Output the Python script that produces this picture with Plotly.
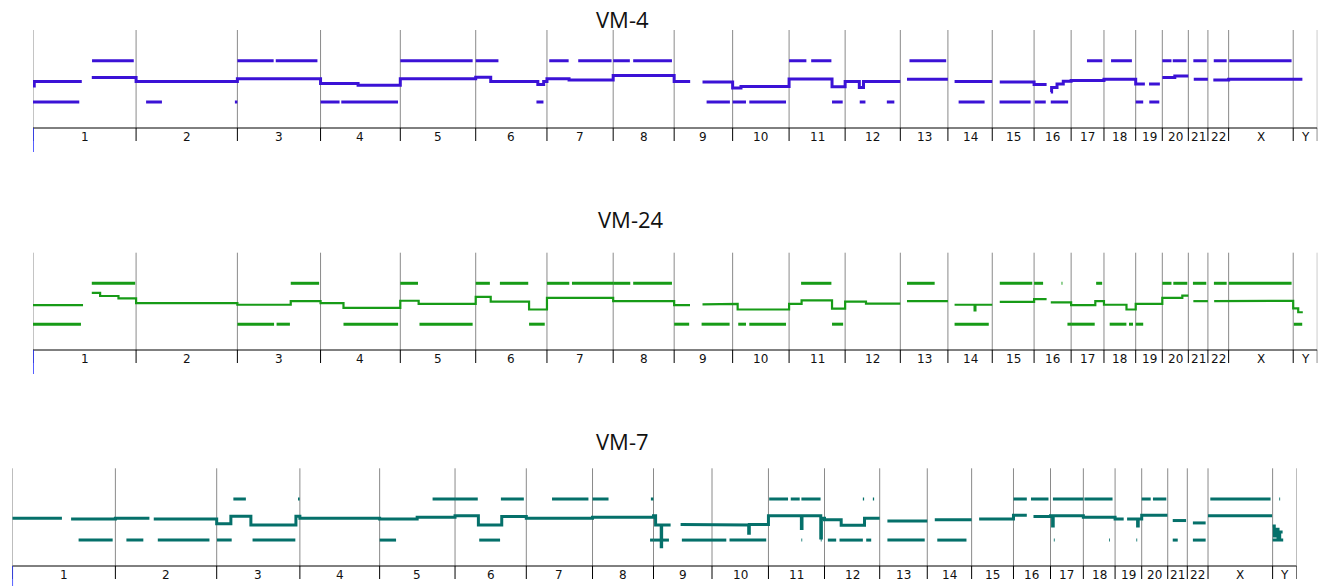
import plotly.graph_objects as go

# ---------------- data ----------------
CHROMS = ["1", "2", "3", "4", "5", "6", "7", "8", "9", "10", "11", "12",
          "13", "14", "15", "16", "17", "18", "19", "20", "21", "22", "X", "Y"]
CHROM_LEN_MB = [247.25, 242.95, 199.50, 191.27, 180.86, 170.90, 158.82, 146.27,
                140.27, 135.37, 134.45, 132.35, 114.14, 106.37, 100.34, 88.83,
                78.77, 76.12, 63.81, 62.44, 46.94, 49.69, 154.91, 57.77]

# log2-ratio profile segments: (chromosome, start Mb, end Mb, level)
VM4_PROFILE = [
    ("1", 0, 3, -0.15), ("1", 3, 117, -0.04), ("1", 141, 247.25, 0.06),
    ("2", 0, 242.95, -0.04), ("3", 0, 199.5, 0.03),
    ("4", 0, 90, -0.09), ("4", 90, 191.27, -0.13), ("5", 0, 180.86, 0.03),
    ("6", 0, 36, 0.07), ("6", 36, 149, -0.04), ("6", 149, 163, -0.11), ("6", 163, 170.9, -0.04),
    ("7", 0, 53, 0.03), ("7", 53, 158.82, 0.0), ("8", 0, 146.27, 0.11),
    ("9", 0, 38.4, -0.04), ("9", 68, 140.27, -0.05),
    ("10", 0, 20, -0.2), ("10", 20, 135.37, -0.16),
    ("11", 0, 103, 0.025), ("11", 103, 134.45, -0.17),
    ("12", 0, 34, -0.04), ("12", 34, 44, -0.19), ("12", 44, 132.35, -0.04),
    ("13", 16, 114.14, 0.02), ("14", 16, 106.37, -0.04), ("15", 18, 100.34, -0.05),
    ("16", 0, 30, -0.11), ("16", 40, 42, -0.3), ("16", 42, 55, -0.19), ("16", 55, 70, -0.1),
    ("16", 70, 88.83, -0.03),
    ("17", 0, 78.77, -0.01), ("18", 0, 76.12, 0.02),
    ("19", 0, 22, -0.1), ("19", 32, 58, -0.1),
    ("20", 0, 30, 0.06), ("20", 30, 62.44, 0.1),
    ("21", 13, 46.94, 0.02), ("22", 13, 49.69, 0.0), ("X", 0, 154.91, 0.02), ("Y", 0, 22, 0.02),
]
VM4_GAINS = [
    ("1", 141.6, 241.7), ("3", 0, 87), ("3", 92, 192), ("5", 0, 173.5), ("6", 0, 54.5),
    ("7", 5.5, 52), ("7", 75, 155), ("8", 0, 40), ("8", 48, 141), ("11", 0, 41.5),
    ("11", 53, 101.5), ("13", 22, 110), ("17", 38, 75), ("18", 17, 67), ("20", 0, 22),
    ("20", 25, 58), ("21", 12, 44), ("22", 14, 45), ("X", 1.5, 151),
]
VM4_LOSSES = [
    ("1", 0, 111), ("2", 24, 62), ("2", 237, 242.95), ("4", 0, 45.6), ("4", 49.7, 185.8),
    ("6", 145.7, 162.5), ("9", 77.8, 133.7), ("10", 0, 32), ("10", 40, 128),
    ("11", 103, 128.6), ("12", 35, 48.7), ("12", 100, 118), ("14", 25.7, 88),
    ("15", 17.5, 92), ("16", 1.7, 28), ("16", 40, 81.6), ("19", 0, 18), ("19", 32.6, 56.6),
]

VM24_PROFILE = [
    ("1", 0, 120, -0.07), ("1", 141, 161, 0.24), ("1", 161, 205, 0.16), ("1", 205, 247.25, 0.1),
    ("2", 0, 242.95, -0.02), ("3", 0, 128, -0.06), ("3", 128, 199.5, 0.03),
    ("4", 0, 55, -0.02), ("4", 55, 191.27, -0.14), ("5", 0, 44, 0.04), ("5", 44, 180.86, -0.04),
    ("6", 0, 36, 0.14), ("6", 36, 128, 0.02), ("6", 128, 170.9, -0.18),
    ("7", 0, 158.82, 0.11), ("8", 0, 146.27, 0.03),
    ("9", 0, 38, -0.07), ("9", 68, 140.27, -0.05),
    ("10", 0, 12, -0.04), ("10", 12, 135.37, -0.18),
    ("11", 0, 30, -0.04), ("11", 30, 103, 0.05), ("11", 103, 134.45, -0.16),
    ("12", 0, 50, 0.02), ("12", 50, 132.35, -0.03), ("13", 16, 114.14, 0.03),
    ("14", 16, 64, -0.06), ("14", 64, 66, -0.2), ("14", 66, 106.37, -0.06),
    ("15", 18, 100.34, 0.01), ("16", 0, 30, 0.08), ("16", 40, 88.83, 0.0),
    ("17", 0, 58, -0.07), ("17", 58, 78.77, 0.03), ("18", 0, 54, -0.06), ("18", 54, 76.12, -0.18),
    ("19", 0, 63.81, -0.04), ("20", 0, 48, 0.11), ("20", 48, 62.44, 0.17),
    ("21", 12, 46.94, 0.03), ("22", 15, 49.69, 0.03), ("X", 0, 154.91, 0.04),
    ("Y", 0, 12, -0.15), ("Y", 12, 23, -0.25),
]
VM24_GAINS = [
    ("1", 141, 245), ("3", 128, 196), ("5", 0, 42.5), ("6", 0, 34), ("6", 58, 126),
    ("7", 0, 53.6), ("7", 60, 158.8), ("8", 0, 41), ("8", 48, 141), ("11", 28.8, 101.5),
    ("13", 16, 82.4), ("15", 18, 96), ("16", 0, 21.6), ("16", 65.8, 68), ("17", 60, 74.4),
    ("20", 0, 22), ("20", 26.4, 60), ("21", 11, 43), ("22", 14.4, 45), ("X", 0.7, 151),
]
VM24_LOSSES = [
    ("1", 0, 115), ("3", 0, 88), ("3", 94, 126), ("4", 55, 186), ("5", 46, 173.5),
    ("6", 128, 165.6), ("9", 0, 36), ("9", 65.8, 133), ("10", 13.4, 32), ("10", 40, 128),
    ("11", 103, 129.6), ("14", 16, 98), ("16", 80, 88.83), ("17", 0, 56.6),
    ("18", 13.7, 53.8), ("18", 60, 69.6), ("19", 0, 18), ("Y", 1.4, 21.6),
]

VM7_PROFILE = [
    ("1", 0, 119, 0.0), ("1", 141, 247.25, -0.02), ("2", 0, 81.6, 0.0), ("2", 92, 242.95, -0.02),
    ("3", 0, 34, -0.14), ("3", 34, 82, 0.05), ("3", 82, 190, -0.17), ("3", 190, 199.5, 0.05),
    ("4", 0, 191.27, 0.0), ("5", 0, 90, -0.02), ("5", 90, 180.86, 0.02),
    ("6", 0, 56, 0.06), ("6", 56, 112, -0.17), ("6", 112, 170.9, 0.04),
    ("7", 0, 158.82, 0.0), ("8", 0, 146.27, 0.02),
    ("9", 0, 5, 0.06), ("9", 5, 18.5, -0.17), ("9", 18.5, 19.5, -0.72), ("9", 19.5, 41, -0.17),
    ("9", 65, 140.27, -0.16),
    ("10", 0, 88, -0.17), ("10", 88, 89.5, -0.38), ("10", 89.5, 135.37, -0.16),
    ("11", 0, 79, 0.06), ("11", 79, 80.5, -0.26), ("11", 80.5, 125.5, 0.06),
    ("11", 125.5, 127, -0.5), ("11", 127, 134.45, 0.0),
    ("12", 0, 40, -0.04), ("12", 40, 96, -0.18), ("12", 96, 132.35, 0.0),
    ("13", 18.5, 114.14, -0.07), ("14", 18, 106.37, -0.04), ("15", 18, 100.34, -0.02),
    ("16", 0, 32, 0.07), ("16", 48, 88.83, 0.04),
    ("17", 0, 5, 0.06), ("17", 5, 6.5, -0.2), ("17", 6.5, 78.77, 0.06),
    ("18", 0, 76.12, 0.02),
    ("19", 0, 20.6, -0.02), ("19", 28.8, 54, -0.02), ("19", 54, 55.5, -0.2), ("19", 55.5, 63.81, -0.02),
    ("20", 0, 61.7, 0.07), ("21", 12, 44, -0.06), ("22", 13.4, 44, -0.12),
    ("X", 0, 153.6, 0.06),
    ("Y", 0, 4, -0.2), ("Y", 4, 8, -0.45), ("Y", 8, 13, -0.28), ("Y", 13, 17, -0.5), ("Y", 17, 24, -0.35),
]
VM7_GAINS = [
    ("3", 40, 70), ("3", 195, 199), ("5", 127, 180.86), ("6", 0, 54.5), ("6", 110, 165),
    ("7", 61.7, 149), ("8", 0, 38.4), ("8", 140, 146), ("11", 1.7, 47), ("11", 53.5, 75),
    ("11", 79, 125), ("12", 92, 95), ("12", 116, 119), ("16", 0, 32), ("16", 42, 84),
    ("17", 5.8, 78.77), ("18", 2.4, 70), ("20", 0, 21.6), ("20", 27, 59), ("X", 5.5, 150),
    ("Y", 16, 18),
]
VM7_LOSSES = [
    ("1", 159, 240.7), ("2", 26.4, 67), ("2", 101.7, 225.6), ("3", 0.7, 36), ("3", 86, 188.6),
    ("5", 0, 39.4), ("6", 58, 108), ("8", 138, 146.27), ("9", 0, 37), ("9", 68, 140.27),
    ("10", 0, 34.3), ("10", 42, 130), ("11", 79, 81), ("11", 125.5, 127.5), ("12", 8, 28),
    ("12", 36, 92), ("12", 100, 112), ("13", 18.5, 108), ("14", 24, 94), ("17", 8, 10),
    ("18", 61.7, 63.7), ("19", 51, 53), ("21", 12, 24), ("22", 13.4, 44), ("Y", 0, 25.4),
]

# ---------------- geometry / style ----------------
W, H = 1323, 586
GAIN_Y, LOSS_Y = 0.48, -0.55
Y_RANGE = [-1.2, 1.25]

OFF = {}
acc = 0.0
for c, L in zip(CHROMS, CHROM_LEN_MB):
    OFF[c] = acc
    acc += L
TOTAL = acc
BOUNDS = [OFF[c] for c in CHROMS] + [TOTAL]

PANELS = [
    dict(name="VM-4", color="#3b12d6", prof=VM4_PROFILE, gains=VM4_GAINS, losses=VM4_LOSSES,
         x0=33, x1=1317.3, top=30, bot=128, tx=622, ty=19, blue=24, lw=3),
    dict(name="VM-24", color="#179b17", prof=VM24_PROFILE, gains=VM24_GAINS, losses=VM24_LOSSES,
         x0=33, x1=1317.3, top=252.7, bot=350, tx=631, ty=219, blue=24, lw=2.2),
    dict(name="VM-7", color="#05706a", prof=VM7_PROFILE, gains=VM7_GAINS, losses=VM7_LOSSES,
         x0=12.3, x1=1296.7, top=468.3, bot=566, tx=622, ty=441, blue=20, lw=3),
]


def gx(ch, pos):
    return OFF[ch] + pos


def profile_xy(segs):
    xs, ys, prev = [], [], None
    for ch, s, e, v in segs:
        a, b = gx(ch, s), gx(ch, e)
        if prev is not None and abs(a - prev) > 1e-6:
            xs.append(None); ys.append(None)
        xs += [a, b]; ys += [v, v]
        prev = b
    return xs, ys


def bars_xy(segs, y):
    xs, ys = [], []
    for ch, s, e in segs:
        xs += [gx(ch, s), gx(ch, e), None]
        ys += [y, y, None]
    return xs, ys


fig = go.Figure()
shapes, annos = [], []
layout = {}

for i, p in enumerate(PANELS, start=1):
    sx = "" if i == 1 else str(i)
    xa, ya = "x" + sx, "y" + sx
    ph = p["bot"] - p["top"]
    layout["xaxis" + sx] = dict(domain=[p["x0"] / W, p["x1"] / W], range=[0, TOTAL],
                                visible=False, anchor=ya, fixedrange=True)
    layout["yaxis" + sx] = dict(domain=[1 - p["bot"] / H, 1 - p["top"] / H], range=Y_RANGE,
                                visible=False, anchor=xa, fixedrange=True)

    # chromosome boundaries and ticks
    for b in BOUNDS:
        shapes.append(dict(type="line", xref=xa, yref=ya + " domain", x0=b, x1=b, y0=0, y1=1,
                           line=dict(color="#8a8a8a", width=1), layer="below"))
        shapes.append(dict(type="line", xref=xa, yref=ya + " domain", x0=b, x1=b, y0=-13 / ph, y1=0,
                           line=dict(color="#000000", width=1)))
    shapes.append(dict(type="line", xref=xa, yref=ya + " domain", x0=0, x1=TOTAL, y0=0, y1=0,
                       line=dict(color="#000000", width=1)))
    shapes.append(dict(type="line", xref=xa, yref=ya + " domain", x0=0, x1=0, y0=-p["blue"] / ph, y1=0,
                       line=dict(color="#1f2dff", width=1.5)))

    for c, L in zip(CHROMS, CHROM_LEN_MB):
        annos.append(dict(x=OFF[c] + L / 2, y=-8.5 / ph, xref=xa, yref=ya + " domain", text=c,
                          showarrow=False, xanchor="center", yanchor="middle",
                          font=dict(family="DejaVu Sans", size=12, color="#111111")))

    annos.append(dict(x=p["tx"] / W, y=1 - p["ty"] / H, xref="paper", yref="paper", text=p["name"],
                      showarrow=False, xanchor="center", yanchor="middle",
                      font=dict(family="Open Sans", size=22, color="#111111")))

    gxs, gys = bars_xy(p["gains"], GAIN_Y)
    lxs, lys = bars_xy(p["losses"], LOSS_Y)
    fig.add_trace(go.Scatter(x=gxs, y=gys, xaxis=xa, yaxis=ya, mode="lines",
                             line=dict(color=p["color"], width=3), hoverinfo="skip", showlegend=False))
    fig.add_trace(go.Scatter(x=lxs, y=lys, xaxis=xa, yaxis=ya, mode="lines",
                             line=dict(color=p["color"], width=3), hoverinfo="skip", showlegend=False))
    pxs, pys = profile_xy(p["prof"])
    fig.add_trace(go.Scatter(x=pxs, y=pys, xaxis=xa, yaxis=ya, mode="lines",
                             line=dict(color=p["color"], width=p["lw"]), hoverinfo="skip",
                             showlegend=False, name=p["name"]))

fig.update_layout(width=W, height=H, margin=dict(l=0, r=0, t=0, b=0),
                  paper_bgcolor="white", plot_bgcolor="white",
                  shapes=shapes, annotations=annos, **layout)

fig.write_html("out.html", config={"displayModeBar": False})

# remove the browser's default page margin so the figure sits at the window origin
with open("out.html", "r", encoding="utf-8") as fh:
    html = fh.read()
html = html.replace("<head>", "<head><style>html,body{margin:0;padding:0;overflow:hidden;}</style>", 1)
with open("out.html", "w", encoding="utf-8") as fh:
    fh.write(html)
